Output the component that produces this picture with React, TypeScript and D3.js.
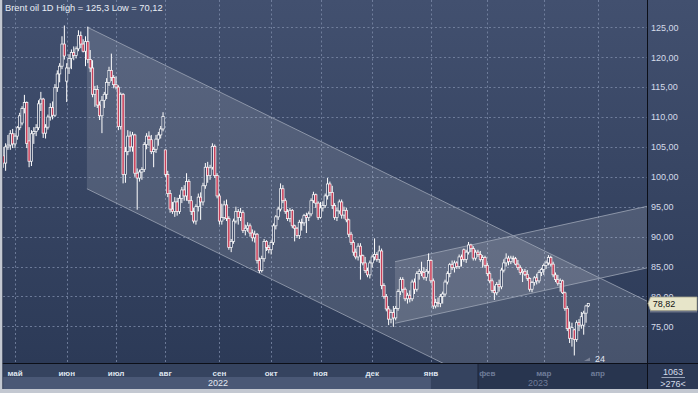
import React from "react";
import * as d3 from "d3";

// ---------- data: daily candles [open, high, low, close] ----------
const apr22 = [
  [103.5, 105.0, 101.5, 102.3], [102.3, 105.6, 101.0, 105.0], [105.0, 107.0, 104.5, 105.3],
  [105.3, 107.8, 104.5, 107.2], [107.2, 108.0, 104.8, 105.5],
];
const may22 = [
  [105.5, 107.3, 104.8, 106.8], [106.8, 108.5, 106.2, 108.2], [108.2, 110.7, 107.8, 110.2],
  [109.0, 111.8, 108.6, 111.4], [111.4, 113.7, 110.6, 112.4], [112.4, 112.6, 104.8, 105.6],
  [106.0, 108.3, 101.6, 102.6], [102.6, 107.8, 101.8, 107.2], [107.2, 108.3, 105.5, 107.6],
  [107.6, 108.8, 106.8, 108.2], [108.2, 112.8, 107.8, 112.2], [112.2, 114.2, 111.0, 113.0],
  [113.0, 113.2, 106.5, 107.3], [107.3, 108.8, 106.4, 108.3], [108.3, 110.4, 107.9, 110.0],
  [110.0, 112.3, 109.4, 111.6], [111.6, 112.6, 109.6, 110.3], [110.3, 115.5, 110.0, 114.9],
  [114.9, 117.8, 114.2, 117.2], [117.2, 119.0, 115.8, 118.5], [118.5, 123.5, 118.0, 122.2],
  [122.2, 125.3, 119.6, 120.2],
];
const jun22 = [
  [116.0, 119.0, 112.5, 118.2], [118.2, 120.5, 117.2, 119.8], [119.8, 121.3, 118.0, 120.8],
  [120.8, 121.8, 119.5, 120.3], [120.3, 121.8, 119.8, 121.4], [121.4, 124.5, 121.0, 123.6],
  [123.6, 124.3, 121.5, 122.2], [122.2, 123.0, 120.8, 121.0], [121.0, 123.5, 118.5, 122.6],
  [122.6, 125.1, 119.0, 119.6], [119.6, 121.2, 117.5, 118.2], [118.2, 119.5, 113.3, 113.8],
  [113.8, 115.2, 111.7, 114.6], [114.6, 115.3, 111.5, 112.0], [112.0, 112.6, 109.5, 110.2],
  [110.2, 113.5, 107.3, 112.8], [112.8, 114.2, 111.5, 113.8], [113.8, 116.5, 113.0, 115.8],
  [115.8, 118.4, 115.2, 117.8], [117.8, 120.6, 116.0, 116.6], [116.6, 117.0, 114.8, 115.4],
];
const jul22 = [
  [115.4, 116.8, 114.6, 115.0], [115.0, 115.3, 107.8, 108.4], [108.4, 114.1, 107.9, 113.8],
  [113.8, 114.0, 98.9, 100.4], [100.4, 105.0, 99.0, 104.2], [104.2, 107.8, 103.6, 106.8],
  [106.8, 107.6, 104.2, 105.0], [105.0, 107.5, 104.2, 107.0], [107.0, 107.2, 100.0, 100.6],
  [100.6, 101.4, 94.5, 99.8], [99.8, 101.2, 99.2, 100.8], [100.8, 101.6, 99.5, 101.2],
  [101.2, 105.8, 100.8, 105.4], [105.4, 107.3, 104.6, 106.8], [106.8, 107.6, 105.2, 106.2],
  [106.2, 107.0, 103.8, 104.2], [104.2, 105.0, 101.6, 104.6], [104.6, 107.0, 104.0, 106.3],
  [106.3, 107.5, 105.2, 107.0], [107.0, 108.5, 106.4, 108.0], [108.0, 110.8, 107.6, 110.1],
];
const aug22 = [
  [104.5, 104.5, 100.0, 100.4], [100.4, 101.0, 96.6, 97.2], [97.2, 97.8, 94.0, 94.6],
  [94.6, 95.8, 93.8, 94.2], [94.2, 96.6, 93.3, 95.8], [95.8, 96.5, 93.5, 94.2],
  [94.2, 97.0, 93.8, 96.4], [96.4, 98.3, 95.6, 97.8], [97.8, 98.6, 96.0, 96.8],
  [96.8, 100.6, 96.0, 99.2], [99.2, 99.6, 95.5, 96.0], [96.0, 96.8, 93.6, 94.2],
  [94.2, 94.8, 92.2, 92.6], [92.6, 95.4, 92.0, 95.0], [95.0, 97.2, 94.2, 96.6],
  [96.6, 97.4, 92.8, 95.8], [95.8, 99.0, 95.2, 98.5], [98.5, 102.3, 98.0, 101.6],
  [101.6, 102.5, 99.0, 100.2], [100.2, 102.0, 99.5, 101.5], [101.6, 105.6, 101.2, 105.1],
  [105.1, 105.4, 99.8, 100.2], [100.2, 100.6, 96.4, 96.8],
];
const sep22 = [
  [96.8, 97.2, 92.0, 92.6], [92.6, 95.5, 92.0, 93.2], [93.2, 96.0, 92.8, 95.3],
  [95.3, 96.2, 92.6, 93.0], [93.0, 93.4, 87.8, 88.2], [88.2, 89.6, 87.4, 89.2],
  [89.2, 93.0, 88.8, 92.6], [92.6, 95.0, 92.2, 94.2], [94.2, 94.6, 92.0, 93.2],
  [93.2, 94.8, 92.6, 94.0], [94.0, 94.4, 90.6, 91.0], [91.0, 92.0, 90.2, 91.4],
  [91.4, 92.4, 90.8, 91.8], [91.8, 92.2, 90.0, 90.6], [90.6, 91.2, 89.2, 89.8],
  [89.8, 91.0, 89.0, 90.4], [90.4, 90.6, 85.5, 86.0], [86.0, 86.5, 83.9, 84.3],
  [84.3, 86.8, 84.0, 86.3], [86.3, 89.6, 85.8, 89.2], [89.2, 89.4, 87.6, 88.2],
  [88.2, 88.6, 87.2, 87.8],
];
const oct22 = [
  [87.8, 89.4, 87.0, 89.0], [89.0, 92.2, 88.6, 91.8], [91.8, 93.6, 91.2, 93.3],
  [93.3, 95.0, 92.8, 94.6], [94.6, 98.9, 94.2, 98.0], [98.0, 98.6, 95.6, 96.0],
  [96.0, 96.4, 93.8, 94.2], [94.2, 94.6, 92.6, 93.0], [93.0, 94.8, 92.4, 94.4],
  [94.4, 94.6, 91.4, 91.8], [91.8, 92.0, 89.2, 91.4], [91.4, 91.6, 89.8, 90.2],
  [90.2, 92.8, 89.6, 92.4], [92.4, 93.0, 91.0, 92.3], [92.3, 93.8, 91.8, 93.5],
  [93.5, 94.0, 90.6, 93.2], [93.2, 94.2, 92.6, 93.8], [93.8, 96.4, 93.4, 96.0],
  [96.0, 97.5, 95.6, 97.0], [97.0, 97.2, 94.8, 95.6], [95.6, 95.9, 92.8, 93.2],
];
const nov22 = [
  [93.2, 95.8, 93.0, 94.8], [94.8, 95.9, 94.2, 95.2], [95.2, 97.2, 94.8, 96.8],
  [96.8, 99.8, 96.2, 98.8], [98.8, 99.2, 96.8, 97.4], [97.4, 98.5, 94.6, 95.2],
  [95.2, 95.6, 92.8, 93.2], [93.2, 94.8, 92.6, 94.3], [94.3, 96.2, 93.8, 95.8],
  [95.8, 96.2, 93.0, 93.6], [93.6, 95.0, 93.0, 94.4], [94.4, 94.8, 92.4, 92.8],
  [92.8, 93.0, 89.9, 90.4], [90.4, 90.8, 88.6, 89.0], [89.0, 89.4, 86.8, 87.4],
  [87.4, 88.0, 86.2, 86.6], [86.6, 88.9, 86.0, 88.4], [88.4, 88.9, 82.8, 86.8],
  [86.8, 87.0, 85.2, 85.6], [85.6, 86.6, 83.9, 84.3], [84.3, 84.8, 83.2, 83.6],
  [83.6, 86.0, 83.0, 85.6],
];
const dec22 = [
  [85.6, 87.0, 84.8, 86.6], [86.6, 89.7, 86.0, 87.0], [87.0, 87.4, 85.8, 86.2],
  [86.2, 88.5, 85.6, 87.6], [87.6, 88.0, 81.2, 81.8], [81.8, 82.2, 79.6, 80.0],
  [80.0, 80.4, 77.5, 77.9], [77.9, 78.4, 75.2, 76.2], [76.2, 77.8, 75.5, 77.3],
  [77.3, 78.4, 74.9, 76.4], [76.4, 78.4, 76.0, 78.0], [78.0, 81.2, 77.6, 80.8],
  [80.8, 83.2, 80.2, 82.8], [82.8, 83.2, 80.6, 81.2], [81.2, 81.5, 79.2, 79.6],
  [79.6, 80.6, 78.8, 80.2], [80.2, 81.0, 79.0, 79.6], [79.6, 82.8, 79.2, 82.4],
  [82.4, 83.0, 80.4, 81.2], [81.2, 84.2, 80.8, 83.8], [83.8, 84.6, 82.8, 84.2],
  [84.2, 85.8, 83.4, 84.0], [84.0, 84.9, 82.8, 83.2], [83.2, 84.6, 82.6, 84.2],
  [84.2, 87.2, 83.8, 86.0],
];
const jan23 = [
  [86.0, 86.2, 82.2, 82.6], [82.6, 83.0, 77.9, 78.4], [78.4, 79.6, 78.0, 79.0],
  [79.0, 79.8, 78.2, 78.8], [78.8, 80.4, 78.2, 80.0], [80.0, 80.8, 78.8, 80.4],
  [80.4, 82.8, 80.0, 82.4], [82.4, 84.2, 82.0, 83.8], [83.8, 85.6, 83.2, 85.3],
  [85.3, 86.0, 84.4, 84.8], [84.8, 86.0, 84.0, 85.6], [85.6, 85.9, 84.6, 85.0],
  [85.0, 87.0, 84.6, 86.6], [86.6, 87.0, 85.0, 86.2], [87.8, 88.0, 85.8, 86.2],
  [86.2, 87.8, 85.6, 87.4], [87.4, 89.1, 87.0, 88.6], [88.6, 88.8, 87.4, 88.0],
  [88.0, 88.4, 86.0, 86.4], [86.4, 87.8, 86.0, 87.4], [87.4, 87.8, 86.6, 87.0],
  [87.0, 87.6, 85.8, 86.2], [86.2, 86.9, 84.8, 86.5], [86.5, 86.8, 84.8, 85.2],
];
const feb23 = [
  [85.2, 85.6, 83.4, 83.8], [83.8, 84.2, 82.2, 82.6], [82.6, 83.0, 80.6, 81.0],
  [81.0, 81.8, 79.4, 80.6], [80.6, 82.4, 80.2, 82.0], [82.0, 82.8, 80.8, 81.6],
  [81.6, 84.8, 81.2, 84.4], [84.4, 86.2, 84.0, 85.6], [85.6, 87.2, 85.0, 86.4],
  [86.4, 86.8, 85.2, 85.8], [85.8, 86.8, 85.4, 86.4], [86.4, 86.8, 85.6, 86.3],
  [86.3, 86.6, 85.2, 85.4], [85.4, 86.1, 84.4, 84.8], [84.8, 85.2, 83.6, 84.0],
  [84.0, 84.6, 82.4, 84.2], [84.2, 84.6, 83.4, 83.7], [83.7, 84.4, 82.6, 83.0],
  [83.0, 83.2, 80.8, 81.2], [81.2, 82.6, 80.7, 82.3], [82.3, 83.4, 81.8, 83.1],
  [83.1, 83.8, 82.0, 82.6], [82.6, 84.4, 82.2, 84.0], [84.0, 84.8, 83.4, 84.5],
];
const mar23 = [
  [84.5, 85.5, 83.6, 85.2], [85.2, 86.0, 84.6, 85.6], [85.6, 86.9, 85.2, 86.5],
  [86.5, 86.8, 85.0, 85.4], [85.4, 85.8, 83.2, 83.6], [83.6, 84.0, 82.4, 82.8],
  [82.8, 83.6, 81.8, 82.2], [82.2, 83.0, 80.8, 82.6], [82.6, 82.8, 80.4, 80.6],
  [80.6, 80.8, 77.6, 78.0], [78.0, 78.4, 74.2, 74.6], [74.6, 75.8, 72.2, 73.0],
  [73.0, 75.6, 71.6, 74.8], [74.4, 74.6, 70.12, 72.8], [72.8, 76.0, 72.4, 75.6],
  [75.6, 76.2, 74.2, 75.2], [75.2, 77.4, 74.6, 76.6], [75.2, 77.6, 73.6, 77.2],
  [77.2, 78.6, 75.6, 78.4], [78.4, 78.9, 78.2, 78.82],
];

// axis labels (month ticks placed at candle index of the month's first bar)
const monthLabels = ["май", "июн", "июл", "авг", "сен", "окт", "ноя", "дек", "янв", "фев", "мар", "апр"];
const monthIdx = [5, 27, 48, 69, 92, 114, 135, 157, 182, 206, 230, 253];
const yearLabels = ["2022", "2023"];
const yearIdx = [91.4, 227.6];
const priceTicks = [75, 80, 85, 90, 95, 100, 105, 110, 115, 120, 125];
const lastPrice = 78.82;
const title = "Brent oil 1D High = 125,3 Low = 70,12";

// trend channels: [candle index, price] anchors
const descIdx = [35.6, 274];
const descUpper = [125.05, 79.2];
const descLower = [98.0, 52.1];
const ascIdx = [166.7, 274];
const ascUpper = [85.8, 95.07];
const ascLower = [75.5, 84.77];

const candles = [
  ...apr22, ...may22, ...jun22, ...jul22, ...aug22, ...sep22,
  ...oct22, ...nov22, ...dec22, ...jan23, ...feb23, ...mar23,
].map((d, i) => ({ i, o: d[0], h: d[1], l: d[2], c: d[3] }));

const W = 698;
const H = 393;
const PL = 3;
const PR = 647;
const PB = 363;
const FONT = "'Liberation Sans', Arial, sans-serif";

const x = d3.scaleLinear().domain([0, 274]).range([3.25, 647.15]);
const y = d3.scaleLinear().domain([70, 125]).range([356.2, 27.3]);

const fmt = (v: number) => v.toFixed(2).replace(".", ",");

function channelPath(idx: number[], up: number[], lo: number[]) {
  const pts: [number, number][] = [
    [x(idx[0]), y(up[0])],
    [x(idx[1]), y(up[1])],
    [x(idx[1]), y(lo[1])],
    [x(idx[0]), y(lo[0])],
  ];
  return d3.line()(pts) + "Z";
}

export default function App() {
  const bw = 2.3;
  const dimX = 478;
  const janX = x(monthIdx[8]);
  return (
    <svg
      width={W}
      height={H}
      style={{ position: "fixed", left: 0, top: 0, display: "block" }}
    >
      <defs>
        <linearGradient id="bg" x1="0" y1="0" x2="0" y2="1">
          <stop offset="0" stopColor="#42506f" />
          <stop offset="1" stopColor="#2c3a57" />
        </linearGradient>
        <clipPath id="plot">
          <rect x={PL} y={0} width={PR - PL} height={PB} />
        </clipPath>
      </defs>

      {/* backgrounds */}
      <rect x={0} y={0} width={W} height={PB} fill="url(#bg)" />
      <rect x={0} y={PB} width={W} height={H - PB} fill="#35435f" />
      <rect x={PL} y={377} width={janX - PL} height={12} fill="#4a5876" />
      <rect x={dimX} y={PB} width={PR - dimX} height={26} fill="#28354f" />
      <line x1={dimX} x2={dimX} y1={PB} y2={389} stroke="#1c2538" strokeWidth={1} />
      <rect x={PR} y={PB} width={W - PR} height={26} fill="#2c3955" />

      {/* grid */}
      <g stroke="#7886a4" strokeWidth={1} strokeDasharray="2,2.5" opacity={0.85}>
        {priceTicks.map((t) => (
          <line key={t} x1={PL} x2={PR} y1={Math.round(y(t)) + 0.5} y2={Math.round(y(t)) + 0.5} />
        ))}
        {monthIdx.map((m) => (
          <line key={m} x1={Math.round(x(m)) + 0.5} x2={Math.round(x(m)) + 0.5} y1={0} y2={PB} />
        ))}
      </g>

      {/* channels */}
      <g clipPath="url(#plot)">
        <path d={channelPath(descIdx, descUpper, descLower)} fill="#ffffff" fillOpacity={0.13} />
        <path d={channelPath(ascIdx, ascUpper, ascLower)} fill="#ffffff" fillOpacity={0.13} />
        <g stroke="#a3abbb" strokeWidth={1} opacity={0.75}>
          <line x1={x(descIdx[0])} y1={y(descUpper[0])} x2={x(descIdx[1])} y2={y(descUpper[1])} />
          <line x1={x(descIdx[0])} y1={y(descLower[0])} x2={x(descIdx[1])} y2={y(descLower[1])} />
          <line x1={x(ascIdx[0])} y1={y(ascUpper[0])} x2={x(ascIdx[1])} y2={y(ascUpper[1])} />
          <line x1={x(ascIdx[0])} y1={y(ascLower[0])} x2={x(ascIdx[1])} y2={y(ascLower[1])} />
        </g>
      </g>

      {/* candles */}
      <g clipPath="url(#plot)">
        {candles.map((d) => (
          <line
            key={"w" + d.i}
            x1={x(d.i)}
            x2={x(d.i)}
            y1={y(d.h)}
            y2={y(d.l)}
            stroke="#ffffff"
            strokeWidth={1}
          />
        ))}
        {candles.map((d) => {
          const top = y(Math.max(d.o, d.c));
          const bot = y(Math.min(d.o, d.c));
          return (
            <rect
              key={"b" + d.i}
              x={x(d.i) - bw / 2}
              y={top}
              width={bw}
              height={Math.max(bot - top, 0.8)}
              fill={d.c < d.o ? "#c8405a" : "#3e4b69"}
              stroke="#ffffff"
              strokeWidth={0.7}
            />
          );
        })}
      </g>

      {/* title */}
      <text x={5} y={11} fill="#e8edf5" fontFamily={FONT} fontSize={9.3}>
        {title}
      </text>

      {/* small marker near bottom */}
      <polygon points="584,361 590,357.5 590,361" fill="#7a8296" />
      <text x={600} y={362} textAnchor="middle" fill="#e0e6f0" fontFamily={FONT} fontSize={9}>
        24
      </text>

      {/* axis borders */}
      <line x1={0} x2={W} y1={PB + 0.5} y2={PB + 0.5} stroke="#0c0f18" strokeWidth={1} />
      <line x1={PR + 0.5} x2={PR + 0.5} y1={0} y2={389} stroke="#0c0f18" strokeWidth={1} />

      {/* right price axis */}
      {priceTicks.map((t) => (
        <text key={t} x={651} y={y(t) + 3.3} fill="#d5dcea" fontFamily={FONT} fontSize={9}>
          {fmt(t)}
        </text>
      ))}

      {/* last price label */}
      <rect x={650} y={310.5} width={47} height={2} fill="#6b7386" />
      <polygon
        points={`${PR + 1},${y(lastPrice)} 650.5,297 697,297 697,310.5 650.5,310.5`}
        fill="#e7e5c9"
        stroke="#a4a38e"
        strokeWidth={0.8}
      />
      <text x={652.7} y={307} fill="#111111" fontFamily={FONT} fontSize={9}>
        {fmt(lastPrice)}
      </text>

      {/* month labels */}
      {monthLabels.map((m, k) => {
        const px = x(monthIdx[k]);
        return (
          <text
            key={m}
            x={px}
            y={376}
            textAnchor="middle"
            fill={px > dimX ? "#6f7c99" : "#dfe5ef"}
            fontFamily={FONT}
            fontSize={8}
            fontWeight="bold"
          >
            {m}
          </text>
        );
      })}
      {yearLabels.map((yl, k) => {
        const px = x(yearIdx[k]);
        return (
          <text
            key={yl}
            x={px}
            y={385.5}
            textAnchor="middle"
            fill={px > dimX ? "#6f7c99" : "#e4e9f2"}
            fontFamily={FONT}
            fontSize={9}
          >
            {yl}
          </text>
        );
      })}

      {/* bottom-right cell */}
      <text x={673} y={374.5} textAnchor="middle" fill="#d5dcea" fontFamily={FONT} fontSize={9}>
        1063
      </text>
      <line x1={661.5} x2={685} y1={377.5} y2={377.5} stroke="#9aa3b6" strokeWidth={1} />
      <text x={673} y={387} textAnchor="middle" fill="#d5dcea" fontFamily={FONT} fontSize={9}>
        {">276<"}
      </text>

      {/* window frame */}
      <rect x={0} y={389} width={W} height={4} fill="#c3c8d1" />
      <rect x={0} y={0} width={2.5} height={H} fill="#c3c8d1" />
      <line x1={2.75} x2={2.75} y1={0} y2={389} stroke="#1c2538" strokeWidth={0.5} />
    </svg>
  );
}
